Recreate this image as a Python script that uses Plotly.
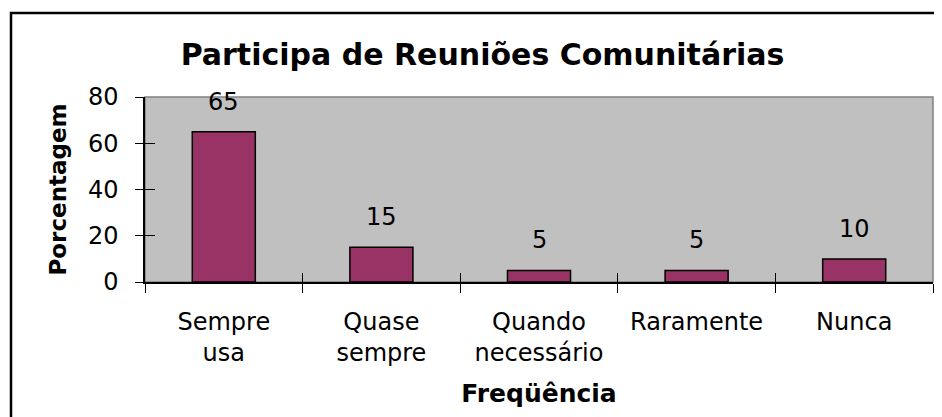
import plotly.graph_objects as go

categories = ["Sempre<br>usa", "Quase<br>sempre", "Quando<br>necessário", "Raramente", "Nunca"]
values = [65, 15, 5, 5, 10]
y_ticks = [0, 20, 40, 60, 80]

title_text = "Participa de Reuniões Comunitárias"
x_title = "Freqüência"
y_title = "Porcentagem"

FONT = "DejaVu Sans"
W, H = 942, 417
OFF = 8  # browser body margin
# plot area in page pixels
PX0, PX1, PY0, PY1 = 145, 933, 97, 282
L = PX0 - OFF
T = PY0 - OFF
R = W - (PX1 - OFF)
B = H - (PY1 - OFF)
pw, ph = PX1 - PX0, PY1 - PY0

fig = go.Figure()
fig.add_trace(go.Bar(
    x=categories, y=values, width=0.4,
    marker=dict(color="#993366", line=dict(color="black", width=1.5)),
    hoverinfo="skip", showlegend=False,
))
# helper trace for overlay axes (inside ticks)
fig.add_trace(go.Scatter(x=[], y=[], xaxis="x2", yaxis="y2", showlegend=False, hoverinfo="skip"))

n = len(categories)
bounds = [i - 0.5 for i in range(n + 1)]

annotations = []
for c, v in zip(categories, values):
    annotations.append(dict(
        x=c, y=v, xref="x", yref="y", text=str(v), showarrow=False,
        yanchor="bottom", yshift=14, font=dict(family=FONT, size=24, color="black"),
    ))

fig.update_layout(
    width=W, height=H,
    margin=dict(l=L, r=R, t=T, b=B),
    paper_bgcolor="white",
    plot_bgcolor="#C0C0C0",
    font=dict(family=FONT, size=24, color="black"),
    title=dict(
        text="<b>" + title_text + "</b>",
        x=(482.5 - OFF) / W, xanchor="center", xref="container",
        y=1 - (44 - OFF) / H, yanchor="top", yref="container",
        font=dict(family=FONT, size=30, color="black"),
    ),
    xaxis=dict(
        type="category", categoryorder="array", categoryarray=categories,
        range=[-0.5, n - 0.5],
        tickson="boundaries", ticks="outside", ticklen=9, tickwidth=1, tickcolor="black",
        showline=True, linecolor="black", linewidth=1.5,
        showgrid=False, zeroline=False,
        tickfont=dict(family=FONT, size=24, color="black"),
        ticklabelstandoff=17,
        title=dict(text="<b>" + x_title + "</b>", font=dict(family=FONT, size=25, color="black"), standoff=19),
    ),
    xaxis2=dict(
        overlaying="x", range=[-0.5, n - 0.5], tickvals=bounds, ticks="inside",
        ticklen=9, tickwidth=1, tickcolor="black", showticklabels=False,
        showline=False, showgrid=False, zeroline=False, side="bottom",
    ),
    yaxis=dict(
        range=[0, 80], tickvals=y_ticks, ticks="outside", ticklen=8, tickwidth=1, tickcolor="black",
        showline=True, linecolor="black", linewidth=1.5,
        showgrid=False, zeroline=False,
        tickfont=dict(family=FONT, size=24, color="black"),
        ticklabelstandoff=12,
        title=dict(text="<b>" + y_title + "</b>", font=dict(family=FONT, size=23, color="black"), standoff=15),
    ),
    yaxis2=dict(
        overlaying="y", range=[0, 80], tickvals=y_ticks, ticks="inside",
        ticklen=10, tickwidth=1, tickcolor="black", showticklabels=False,
        showline=False, showgrid=False, zeroline=False, side="left",
    ),
    annotations=annotations,
    shapes=[
        # plot area border (grey, top/right)
        dict(type="rect", xref="paper", yref="paper", x0=0, y0=0, x1=1, y1=1,
             line=dict(color="#808080", width=1.5), layer="below"),
        # outer chart frame
        dict(type="rect", xref="paper", yref="paper",
             x0=(11 - PX0) / pw, x1=(W + 20 - PX0) / pw,
             y0=-(H + 20 - PY1) / ph, y1=(PY1 - 13) / ph,
             line=dict(color="black", width=2.5)),
    ],
)

fig.write_html("out.html")
